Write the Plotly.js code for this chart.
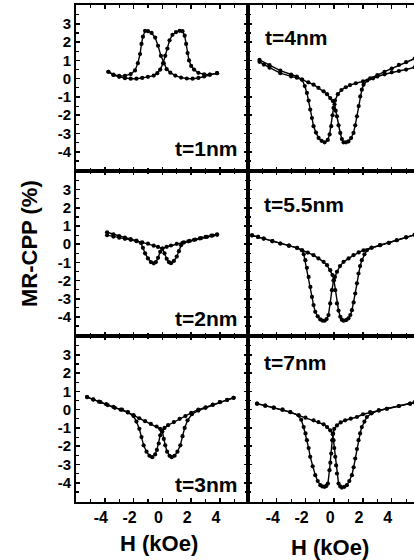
<!DOCTYPE html>
<html>
<head>
<meta charset="utf-8">
<script src="https://cdn.plot.ly/plotly-3.0.1.min.js"></script>
<style>
  html, body { margin: 0; padding: 0; background: #fff; overflow: hidden; }
  #chart { width: 414px; height: 560px; }
</style>
</head>
<body>
<div id="chart"></div>
<script>
// MR-CPP butterfly loops for six spacer thicknesses.
// Each loop: "down" sweep (+H -> -H) and "up" sweep (-H -> +H).

const thicknessLabels = ["t=1nm", "t=4nm", "t=2nm", "t=5.5nm", "t=3nm", "t=7nm"];

// t = 1 nm
const H_t1_down  = [3.8, 3.3, 2.9, 2.5, 2.1, 1.7, 1.3, 0.9, 0.55, 0.3, 0.1, -0.1, -0.3, -0.5, -0.75, -1.0, -1.2, -1.35, -1.45, -1.55, -1.7, -1.9, -2.2, -2.6, -3.0, -3.4, -3.75];
const MR_t1_down = [0.3, 0.22, 0.12, 0.04, 0.0, 0.01, 0.06, 0.17, 0.33, 0.52, 0.84, 1.25, 1.8, 2.25, 2.5, 2.6, 2.62, 2.3, 1.9, 1.35, 0.85, 0.45, 0.25, 0.16, 0.15, 0.22, 0.38];
const H_t1_up    = [-3.75, -3.4, -3.0, -2.6, -2.2, -1.8, -1.4, -1.0, -0.6, -0.35, -0.15, 0.05, 0.2, 0.35, 0.5, 0.7, 0.95, 1.2, 1.4, 1.55, 1.65, 1.75, 1.85, 2.0, 2.2, 2.5, 2.9, 3.3, 3.8];
const MR_t1_up   = [0.38, 0.2, 0.1, 0.03, 0.0, 0.0, 0.04, 0.1, 0.17, 0.3, 0.5, 0.85, 1.25, 1.65, 2.1, 2.4, 2.55, 2.62, 2.6, 2.35, 1.9, 1.4, 1.0, 0.7, 0.5, 0.32, 0.24, 0.22, 0.3];

// t = 2 nm
const H_t2_down  = [3.8, 3.4, 3.0, 2.6, 2.2, 1.8, 1.4, 1.0, 0.6, 0.3, 0.0, -0.15, -0.3, -0.45, -0.6, -0.8, -1.0, -1.2, -1.35, -1.5, -1.8, -2.2, -2.6, -3.0, -3.4, -3.84];
const MR_t2_down = [0.55, 0.47, 0.4, 0.32, 0.24, 0.16, 0.08, 0.02, -0.07, -0.14, -0.24, -0.42, -0.75, -0.98, -1.05, -0.98, -0.78, -0.5, -0.2, 0.08, 0.2, 0.28, 0.36, 0.45, 0.55, 0.66];
const H_t2_up    = [-3.84, -3.4, -3.0, -2.6, -2.2, -1.8, -1.4, -1.0, -0.6, -0.3, 0.0, 0.15, 0.3, 0.45, 0.6, 0.8, 1.0, 1.15, 1.3, 1.5, 1.9, 2.3, 2.7, 3.1, 3.5, 3.8];
const MR_t2_up   = [0.5, 0.42, 0.36, 0.3, 0.24, 0.17, 0.1, 0.03, -0.08, -0.15, -0.24, -0.5, -0.8, -0.98, -1.04, -0.92, -0.68, -0.38, -0.05, 0.1, 0.18, 0.26, 0.34, 0.41, 0.48, 0.52];

// t = 3 nm
const H_t3_down  = [4.95, 4.5, 4.0, 3.5, 3.0, 2.5, 2.0, 1.6, 1.2, 0.8, 0.4, 0.15, -0.05, -0.15, -0.25, -0.38, -0.5, -0.7, -0.9, -1.1, -1.3, -1.45, -1.6, -1.8, -2.0, -2.4, -2.9, -3.4, -3.9, -4.4, -4.8, -5.23];
const MR_t3_down = [0.65, 0.53, 0.42, 0.28, 0.13, 0.0, -0.18, -0.35, -0.5, -0.68, -0.85, -1.0, -1.15, -1.4, -1.85, -2.2, -2.45, -2.6, -2.52, -2.3, -1.95, -1.5, -1.05, -0.65, -0.35, -0.15, 0.0, 0.15, 0.3, 0.44, 0.55, 0.69];
const H_t3_up    = [-5.23, -4.8, -4.3, -3.8, -3.3, -2.8, -2.4, -2.0, -1.6, -1.2, -0.8, -0.4, -0.15, 0.0, 0.1, 0.2, 0.33, 0.5, 0.65, 0.85, 1.05, 1.25, 1.4, 1.55, 1.75, 2.05, 2.5, 3.0, 3.5, 4.0, 4.5, 4.95];
const MR_t3_up   = [0.69, 0.56, 0.42, 0.25, 0.1, 0.0, -0.13, -0.3, -0.47, -0.63, -0.78, -0.92, -1.05, -1.2, -1.6, -1.95, -2.3, -2.52, -2.6, -2.52, -2.3, -1.95, -1.45, -1.0, -0.58, -0.25, -0.05, 0.1, 0.26, 0.41, 0.54, 0.65];

// t = 4 nm
const H_t4_down  = [5.6, 5.0, 4.5, 4.0, 3.5, 3.0, 2.5, 2.0, 1.5, 1.1, 0.8, 0.5, 0.25, 0.05, -0.05, -0.12, -0.21, -0.32, -0.45, -0.67, -0.88, -1.09, -1.27, -1.44, -1.55, -1.67, -1.78, -1.9, -2.05, -2.24, -2.6, -3.0, -3.75, -4.5, -5.2];
const MR_t4_down = [1.1, 0.9, 0.75, 0.55, 0.38, 0.2, 0.02, -0.15, -0.25, -0.35, -0.47, -0.62, -0.85, -1.2, -1.6, -2.0, -2.6, -3.05, -3.35, -3.48, -3.4, -3.24, -2.95, -2.6, -2.15, -1.69, -1.2, -0.78, -0.4, -0.05, 0.12, 0.22, 0.44, 0.74, 1.03];
const H_t4_up    = [-5.2, -4.9, -4.5, -3.75, -3.0, -2.6, -2.24, -1.8, -1.44, -1.1, -0.74, -0.5, -0.28, -0.1, 0.02, 0.1, 0.19, 0.3, 0.42, 0.53, 0.65, 0.82, 0.99, 1.17, 1.34, 1.46, 1.58, 1.7, 1.81, 1.92, 2.04, 2.3, 2.7, 3.0, 3.5, 4.0, 4.5, 5.0, 5.6];
const MR_t4_up   = [0.92, 0.77, 0.6, 0.3, 0.12, 0.05, -0.05, -0.2, -0.33, -0.5, -0.69, -0.85, -1.06, -1.22, -1.4, -1.75, -2.06, -2.55, -2.97, -3.3, -3.48, -3.48, -3.43, -3.25, -2.97, -2.55, -2.06, -1.5, -0.97, -0.6, -0.33, -0.1, 0.02, 0.12, 0.24, 0.35, 0.42, 0.5, 0.62];

// t = 5.5 nm
const H_t55_down  = [5.6, 5.0, 4.35, 3.8, 3.19, 2.6, 2.04, 1.7, 1.34, 1.0, 0.65, 0.4, 0.19, 0.05, -0.05, -0.16, -0.28, -0.4, -0.53, -0.67, -0.82, -0.97, -1.15, -1.32, -1.44, -1.55, -1.66, -1.78, -1.9, -2.01, -2.12, -2.24, -2.59, -3.15, -3.75, -4.3, -4.91, -5.3, -5.72];
const MR_t55_down = [0.52, 0.38, 0.22, 0.08, -0.05, -0.18, -0.33, -0.45, -0.6, -0.78, -0.97, -1.2, -1.52, -1.8, -2.0, -2.53, -3.26, -3.9, -4.12, -4.21, -4.2, -4.14, -3.97, -3.72, -3.35, -2.9, -2.35, -1.8, -1.3, -0.88, -0.55, -0.33, -0.2, -0.08, 0.04, 0.17, 0.31, 0.4, 0.49];
const H_t55_up    = [-5.72, -5.3, -4.91, -4.3, -3.75, -3.15, -2.59, -2.24, -1.84, -1.44, -1.1, -0.74, -0.5, -0.28, -0.12, -0.02, 0.07, 0.19, 0.3, 0.42, 0.53, 0.65, 0.82, 0.99, 1.12, 1.23, 1.35, 1.46, 1.58, 1.69, 1.8, 1.92, 2.1, 2.27, 2.6, 3.19, 3.8, 4.35, 5.0, 5.6];
const MR_t55_up   = [0.49, 0.4, 0.31, 0.17, 0.04, -0.08, -0.2, -0.33, -0.46, -0.6, -0.78, -0.97, -1.15, -1.43, -1.7, -1.98, -2.53, -3.26, -3.65, -3.99, -4.15, -4.21, -4.18, -4.08, -3.9, -3.63, -3.2, -2.71, -2.15, -1.61, -1.2, -0.88, -0.55, -0.33, -0.2, -0.05, 0.08, 0.22, 0.38, 0.52];

// t = 7 nm
const H_t7_down  = [5.6, 5.28, 4.5, 3.66, 3.1, 2.5, 2.0, 1.58, 1.15, 0.76, 0.45, 0.19, 0.0, -0.08, -0.14, -0.21, -0.27, -0.33, -0.44, -0.55, -0.67, -0.82, -0.97, -1.15, -1.32, -1.5, -1.67, -1.78, -1.9, -2.0, -2.13, -2.3, -2.48, -3.06, -3.6, -4.21, -4.8, -5.37];
const MR_t7_down = [0.4, 0.33, 0.2, 0.05, -0.04, -0.13, -0.25, -0.4, -0.49, -0.58, -0.7, -0.86, -1.05, -1.3, -1.67, -2.4, -2.9, -3.31, -4.04, -4.17, -4.22, -4.2, -4.13, -3.9, -3.58, -3.1, -2.58, -2.1, -1.67, -1.3, -0.95, -0.55, -0.31, -0.13, 0.0, 0.11, 0.22, 0.33];
const H_t7_up    = [-5.37, -4.8, -4.21, -3.6, -3.06, -2.48, -2.0, -1.44, -1.1, -0.74, -0.5, -0.28, -0.1, -0.05, 0.0, 0.07, 0.13, 0.19, 0.3, 0.42, 0.53, 0.7, 0.88, 1.05, 1.23, 1.35, 1.46, 1.58, 1.69, 1.8, 1.92, 2.1, 2.27, 2.6, 3.1, 3.66, 4.5, 5.28, 5.6];
const MR_t7_up   = [0.33, 0.22, 0.11, 0.0, -0.13, -0.31, -0.44, -0.58, -0.68, -0.8, -0.95, -1.13, -1.35, -1.67, -2.1, -2.58, -3.05, -3.49, -4.04, -4.2, -4.26, -4.22, -4.13, -3.9, -3.58, -3.15, -2.67, -2.15, -1.67, -1.3, -0.95, -0.65, -0.4, -0.2, -0.04, 0.05, 0.2, 0.33, 0.4];

// Axis ticks
const xTickVals = [-4, -2, 0, 2, 4];
const xTickText = ["-4", "-2", "0", "2", "4"];
const yTickVals = [-4, -3, -2, -1, 0, 1, 2, 3];
const yTickText = ["-4", "-3", "-2", "-1", "0", "1", "2", "3"];

const xTitle = "H (kOe)";
const yTitle = "MR-CPP (%)";

// ---- layout geometry (pixels in a 414 x 560 page) ----
const W = 414, Hpx = 560;
const px = v => v / W;
const py = v => 1 - v / Hpx;

const colEdges = [[76, 248], [248, 414]];
const rowEdges = [[5, 171], [171, 336], [336, 502]];
const xRanges = [[-6, 5.95], [-6, 5.55]];
const yRange = [-5.05, 4.03];

const panels = [
  { h: [H_t1_down, H_t1_up],   m: [MR_t1_down, MR_t1_up] },
  { h: [H_t4_down, H_t4_up],   m: [MR_t4_down, MR_t4_up] },
  { h: [H_t2_down, H_t2_up],   m: [MR_t2_down, MR_t2_up] },
  { h: [H_t55_down, H_t55_up], m: [MR_t55_down, MR_t55_up] },
  { h: [H_t3_down, H_t3_up],   m: [MR_t3_down, MR_t3_up] },
  { h: [H_t7_down, H_t7_up],   m: [MR_t7_down, MR_t7_up] }
];

const FAMILY = "Liberation Sans, Arial, sans-serif";
const boldFont = (size) => ({ family: FAMILY, size: size, color: "#000", weight: "bold" });
const bold = s => "<b>" + s + "</b>";

const traces = [];
const layout = {
  width: W, height: Hpx,
  margin: { l: 0, r: 0, t: 0, b: 0 },
  paper_bgcolor: "#fff", plot_bgcolor: "#fff",
  showlegend: false,
  annotations: [],
  font: { family: FAMILY, size: 15, color: "#000" }
};

panels.forEach((p, i) => {
  const row = Math.floor(i / 2), col = i % 2;
  const n = i + 1;
  const xa = n === 1 ? "xaxis" : "xaxis" + n;
  const ya = n === 1 ? "yaxis" : "yaxis" + n;
  const xr = n === 1 ? "x" : "x" + n;
  const yr = n === 1 ? "y" : "y" + n;

  for (let b = 0; b < 2; b++) {
    traces.push({
      type: "scatter", mode: "lines+markers",
      x: p.h[b], y: p.m[b], xaxis: xr, yaxis: yr,
      line: { color: "#000", width: 1.4 },
      marker: { color: "#000", size: 4.2 },
      hoverinfo: "skip"
    });
  }

  layout[xa] = {
    domain: [px(colEdges[col][0]), px(colEdges[col][1])],
    anchor: yr, range: xRanges[col],
    showline: true, linecolor: "#000", linewidth: 2,
    mirror: "ticks",
    ticks: "inside", ticklen: 4, tickwidth: 1.5, tickcolor: "#000",
    tickmode: "array", tickvals: xTickVals, ticktext: xTickText.map(bold),
    minor: { tickmode: "linear", tick0: 0, dtick: 1, ticks: "inside", ticklen: 3, tickwidth: 1.2, tickcolor: "#000" },
    showticklabels: row === 2,
    ticklabelshift: -4,
    tickfont: { family: FAMILY, size: 16, color: "#000" },
    showgrid: false, zeroline: false, fixedrange: true
  };

  layout[ya] = {
    domain: [py(rowEdges[row][1]), py(rowEdges[row][0])],
    anchor: xr, range: yRange,
    showline: true, linecolor: "#000", linewidth: 2,
    mirror: col === 0 ? "ticks" : false,
    ticks: "inside", ticklen: 4, tickwidth: 1.5, tickcolor: "#000",
    tickmode: "array", tickvals: yTickVals, ticktext: yTickText.map(bold),
    minor: { tickmode: "linear", tick0: 0, dtick: 0.5, ticks: "inside", ticklen: 3, tickwidth: 1.2, tickcolor: "#000" },
    showticklabels: col === 0,
    tickfont: { family: FAMILY, size: 15, color: "#000" },
    showgrid: false, zeroline: false, fixedrange: true
  };
});

// Thickness labels inside each panel
const labelPos = [
  { x: 239, y: 149, anchor: "right" },
  { x: 263, y: 38,  anchor: "left" },
  { x: 239, y: 318, anchor: "right" },
  { x: 262, y: 204, anchor: "left" },
  { x: 239, y: 484, anchor: "right" },
  { x: 262, y: 362, anchor: "left" }
];
thicknessLabels.forEach((t, i) => {
  layout.annotations.push({
    xref: "paper", yref: "paper",
    x: px(labelPos[i].x), y: py(labelPos[i].y),
    xanchor: labelPos[i].anchor, yanchor: "middle",
    text: bold(t), showarrow: false, font: boldFont(21)
  });
});

// Axis titles
layout.annotations.push(
  { xref: "paper", yref: "paper", x: px(159), y: py(543), xanchor: "center", yanchor: "middle",
    text: bold(xTitle), showarrow: false, font: boldFont(22) },
  { xref: "paper", yref: "paper", x: px(330), y: py(547), xanchor: "center", yanchor: "middle",
    text: bold(xTitle), showarrow: false, font: boldFont(22) },
  { xref: "paper", yref: "paper", x: px(29), y: py(244), xanchor: "center", yanchor: "middle",
    text: bold(yTitle), textangle: -90, showarrow: false, font: boldFont(22) }
);

Plotly.newPlot("chart", traces, layout, { staticPlot: true, displayModeBar: false });
</script>
</body>
</html>
